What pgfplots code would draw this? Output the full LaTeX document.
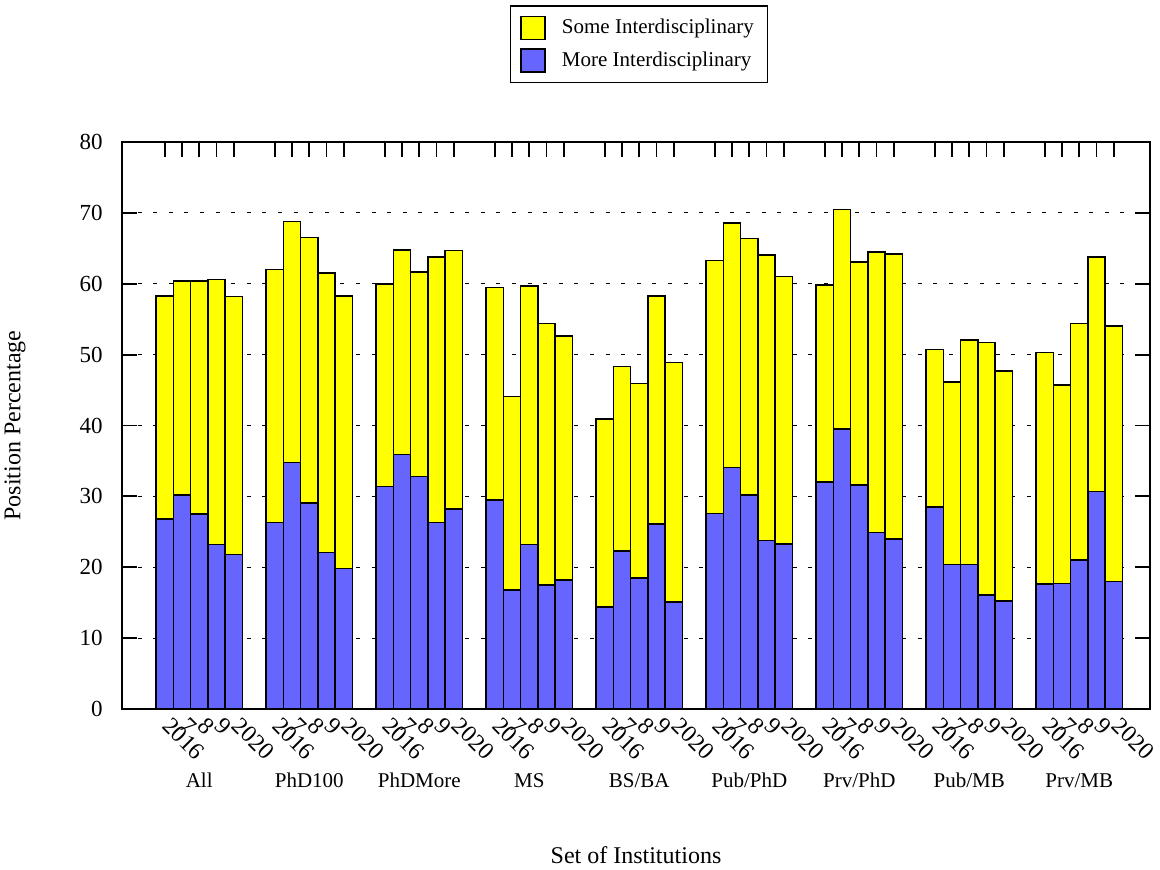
\documentclass[border=0pt]{standalone}
\usepackage{pgfplots}
\pgfplotsset{compat=1.18}
\usepackage{pgfplotstable}
\usepackage{fontspec}
\setmainfont{Liberation Serif}
\definecolor{ybarc}{RGB}{255,255,0}
\definecolor{bbarc}{RGB}{102,102,255}

\pgfplotstableread{
x more some
42.65 26.8 31.5
59.95 30.2 30.2
77.25 27.5 32.9
94.55 23.2 37.4
111.85 21.8 36.4
152.65 26.3 35.7
169.95 34.8 34.0
187.25 29.1 37.4
204.55 22.1 39.4
221.85 19.8 38.5
262.65 31.4 28.6
279.95 35.9 28.9
297.25 32.8 28.9
314.55 26.3 37.5
331.85 28.2 36.5
372.65 29.5 30.0
389.95 16.8 27.3
407.25 23.2 36.5
424.55 17.5 36.9
441.85 18.2 34.4
482.65 14.4 26.5
499.95 22.3 26.0
517.25 18.5 27.4
534.55 26.1 32.2
551.85 15.1 33.8
592.65 27.6 35.7
609.95 34.1 34.5
627.25 30.2 36.2
644.55 23.8 40.3
661.85 23.3 37.7
702.65 32.0 27.8
719.95 39.5 31.0
737.25 31.6 31.5
754.55 24.9 39.6
771.85 24.0 40.2
812.65 28.5 22.2
829.95 20.4 25.7
847.25 20.4 31.7
864.55 16.1 35.6
881.85 15.2 32.5
922.65 17.6 32.7
939.95 17.7 28.0
957.25 21.0 33.4
974.55 30.7 33.1
991.85 18.0 36.0
}\data

\begin{document}
\fontsize{10.5}{12.6}\selectfont
\begin{tikzpicture}
\useasboundingbox (-61pt,-80pt) rectangle (519pt,354.5pt);
\begin{axis}[
  at={(0,0)}, anchor=south west, scale only axis,
  width=514pt, height=283.5pt,
  xmin=0, xmax=1028, ymin=0, ymax=80,
  ybar stacked, bar width=17.3,
  clip=false,
  xtick=data,
  xticklabels={2016,7,8,9,2020,2016,7,8,9,2020,2016,7,8,9,2020,2016,7,8,9,2020,2016,7,8,9,2020,2016,7,8,9,2020,2016,7,8,9,2020,2016,7,8,9,2020,2016,7,8,9,2020},
  ytick={0,10,...,80},
  ymajorgrids,
  grid style={black, line width=0.6pt, dash pattern=on 2pt off 5.8pt},
  tick align=inside, major tick length=7.5pt,
  tick style={black, line width=0.9pt},
  axis line style={line width=0.9pt},
  /pgf/number format/assume math mode=true,
  yticklabel style={xshift=-6pt, font=\fontsize{11.5}{13.8}\selectfont},
  xticklabel style={xshift=-1.75pt, yshift=-9pt, rotate=-45, anchor=base west, inner sep=0pt, font=\fontsize{12}{14.4}\selectfont},
  xlabel={Set of Institutions},
  xlabel style={at={(axis description cs:0.5,0)}, anchor=center, yshift=-73pt, font=\fontsize{12}{14}\selectfont},
  ylabel={Position Percentage},
  ylabel style={at={(axis description cs:0,0.5)}, anchor=center, yshift=53.5pt, font=\fontsize{12}{14}\selectfont},
  reverse legend,
  legend cell align=left,
  legend style={at={(0.503,1.104)}, anchor=south, draw=black, line width=0.6pt,
    inner xsep=5pt, inner ysep=4.5pt, row sep=3.5pt,
    /tikz/every odd column/.append style={column sep=6pt},
    /tikz/every even column/.append style={column sep=7pt}},
]
\addplot[fill=bbarc, draw=black, line width=0.8pt,
  legend image code/.code={\draw[fill=bbarc, draw=black, line width=0.8pt] (0pt,-5.75pt) rectangle (12pt,5.75pt);}]
  table[x=x, y=more]{\data};
\addlegendentry{More Interdisciplinary}
\addplot[fill=ybarc, draw=black, line width=0.8pt,
  legend image code/.code={\draw[fill=ybarc, draw=black, line width=0.8pt] (0pt,-5.75pt) rectangle (12pt,5.75pt);}]
  table[x=x, y=some]{\data};
\addlegendentry{Some Interdisciplinary}
\node[anchor=base, yshift=-39pt] at (axis cs:77.25,0) {All};
\node[anchor=base, yshift=-39pt] at (axis cs:187.25,0) {PhD100};
\node[anchor=base, yshift=-39pt] at (axis cs:297.25,0) {PhDMore};
\node[anchor=base, yshift=-39pt] at (axis cs:407.25,0) {MS};
\node[anchor=base, yshift=-39pt] at (axis cs:517.25,0) {BS/BA};
\node[anchor=base, yshift=-39pt] at (axis cs:627.25,0) {Pub/PhD};
\node[anchor=base, yshift=-39pt] at (axis cs:737.25,0) {Prv/PhD};
\node[anchor=base, yshift=-39pt] at (axis cs:847.25,0) {Pub/MB};
\node[anchor=base, yshift=-39pt] at (axis cs:957.25,0) {Prv/MB};
\end{axis}
\end{tikzpicture}
\end{document}
